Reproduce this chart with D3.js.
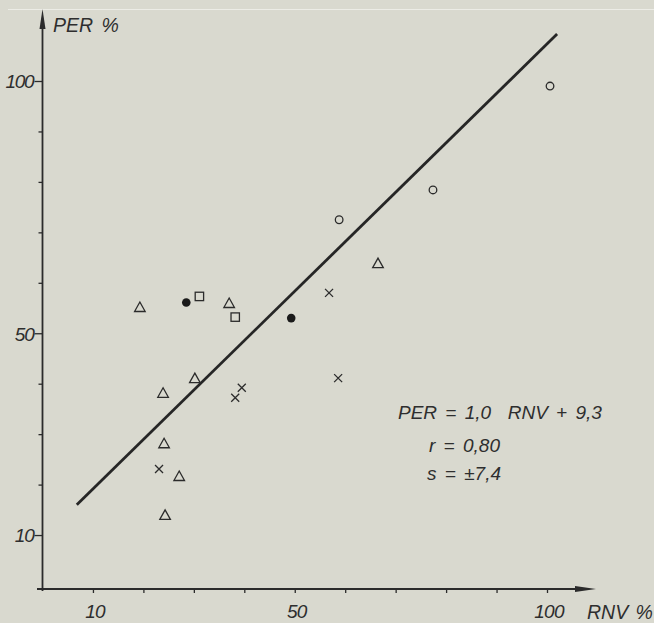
<!DOCTYPE html>
<html lang="en">
<head>
<meta charset="utf-8">
<script src="https://d3js.org/d3.v7.min.js"></script>
<style>
  html, body { margin: 0; padding: 0; background: #d9d9cf; }
  text { font-family: "Liberation Sans", Arial, sans-serif; font-style: italic; fill: #2e2e2e; }
</style>
</head>
<body>
<div id="chart"></div>
<script>
  // values (RNV %, PER %)
  const triangleRNV = [19.3, 37.0, 23.9, 30.2, 24.1, 27.1, 24.3, 66.5];
  const trianglePER = [55.2, 56.0, 38.2, 41.1, 28.2, 21.7, 14.0, 63.9];
  const dotRNV = [28.5, 49.3];
  const dotPER = [56.1, 53.0];
  const squareRNV = [31.1, 38.2];
  const squarePER = [57.3, 53.2];
  const crossRNV = [23.1, 38.2, 39.5, 56.8, 58.6];
  const crossPER = [23.1, 37.2, 39.2, 58.0, 41.1];
  const circleRNV = [58.8, 77.4, 100.6];
  const circlePER = [72.5, 78.4, 99.0];
  // regression line end points
  const lineRNV = [6.8, 102.0];
  const linePER = [16.0, 109.3];
  const tickValues = [10, 20, 30, 40, 50, 60, 70, 80, 90, 100];
  const labelledTicks = [10, 50, 100];
  const equationLines = ["PER = 1,0  RNV + 9,3", "r = 0,80", "s = ±7,4"];

  const W = 654, H = 623;
  const ink = "#2b2b2b";

  const svg = d3.select("#chart").append("svg")
    .attr("width", W)
    .attr("height", H);

  // scan artefact line across the top
  svg.append("line")
    .attr("x1", 8).attr("x2", W).attr("y1", 9.5).attr("y2", 9.5)
    .attr("stroke", "#ecece6").attr("stroke-width", 1);

  const x = d3.scaleLinear().domain([0, 100]).range([42.5, 547]);
  const y = d3.scaleLinear().domain([0, 100]).range([585.5, 81]);
  const axisY = 589, axisX = 42.5;

  // x axis
  const gx = svg.append("g").attr("transform", "translate(0," + axisY + ")")
    .call(d3.axisBottom(x).tickValues(tickValues)
      .tickSize(4).tickPadding(12)
      .tickFormat(d => labelledTicks.includes(d) ? d : ""));
  gx.select(".domain").remove();
  gx.selectAll("line").attr("stroke", ink).attr("stroke-width", 1.3);
  gx.selectAll("text").attr("font-size", 19).attr("dx", 1.5).attr("letter-spacing", -0.8)
    .style("font-family", '"Liberation Sans", Arial, sans-serif').attr("fill", ink);

  // y axis
  const gy = svg.append("g").attr("transform", "translate(" + axisX + ",0)")
    .call(d3.axisLeft(y).tickValues(tickValues)
      .tickSize(4).tickPadding(10)
      .tickFormat(d => labelledTicks.includes(d) ? d : ""));
  gy.select(".domain").remove();
  gy.selectAll("line").attr("stroke", ink).attr("stroke-width", 1.3)
    .attr("x2", d => labelledTicks.includes(d) ? -8 : -4);
  gy.selectAll("text").attr("font-size", 19).attr("x", -9).attr("dy", "0.36em")
    .attr("letter-spacing", -1.2)
    .style("font-family", '"Liberation Sans", Arial, sans-serif').attr("fill", ink);

  // axis lines with arrow heads
  svg.append("line").attr("x1", 37).attr("x2", 580).attr("y1", axisY).attr("y2", axisY)
    .attr("stroke", ink).attr("stroke-width", 1.8);
  svg.append("path").attr("d", `M575,${axisY - 3}L596,${axisY}L575,${axisY + 3}Z`).attr("fill", ink);
  svg.append("line").attr("x1", axisX).attr("x2", axisX).attr("y1", 25).attr("y2", 591)
    .attr("stroke", ink).attr("stroke-width", 1.8);
  svg.append("path").attr("d", `M${axisX - 3},29L${axisX},9L${axisX + 3},29Z`).attr("fill", ink);

  svg.append("text").attr("x", 53).attr("y", 32).attr("font-size", 19.5).style("word-spacing", "3px").text("PER %");
  svg.append("text").attr("x", 587).attr("y", 619).attr("font-size", 19.5).style("word-spacing", "2px").text("RNV %");

  // regression line
  svg.append("path")
    .datum(d3.zip(lineRNV, linePER))
    .attr("d", d3.line().x(d => x(d[0])).y(d => y(d[1])))
    .attr("fill", "none").attr("stroke", "#262626").attr("stroke-width", 2.8);

  const marks = svg.append("g").attr("stroke", ink).attr("stroke-width", 1.3);

  marks.selectAll(".tri").data(d3.zip(triangleRNV, trianglePER)).join("path")
    .attr("class", "tri").attr("fill", "none")
    .attr("d", d => `M${x(d[0])},${y(d[1]) - 5}L${x(d[0]) + 5.3},${y(d[1]) + 4.5}L${x(d[0]) - 5.3},${y(d[1]) + 4.5}Z`);

  marks.selectAll(".dot").data(d3.zip(dotRNV, dotPER)).join("circle")
    .attr("class", "dot").attr("cx", d => x(d[0])).attr("cy", d => y(d[1]))
    .attr("r", 4.3).attr("fill", "#1a1a1a").attr("stroke", "none");

  marks.selectAll(".sq").data(d3.zip(squareRNV, squarePER)).join("rect")
    .attr("class", "sq").attr("fill", "none")
    .attr("x", d => x(d[0]) - 4.2).attr("y", d => y(d[1]) - 4.2)
    .attr("width", 8.4).attr("height", 8.4);

  marks.selectAll(".cross").data(d3.zip(crossRNV, crossPER)).join("path")
    .attr("class", "cross").attr("fill", "none")
    .attr("d", d => `M${x(d[0]) - 4},${y(d[1]) - 4}L${x(d[0]) + 4},${y(d[1]) + 4}M${x(d[0]) + 4},${y(d[1]) - 4}L${x(d[0]) - 4},${y(d[1]) + 4}`);

  marks.selectAll(".circ").data(d3.zip(circleRNV, circlePER)).join("circle")
    .attr("class", "circ").attr("fill", "none")
    .attr("cx", d => x(d[0])).attr("cy", d => y(d[1])).attr("r", 3.8);

  // regression statistics
  const eqPos = [[398, 419], [429, 452], [427, 480]];
  svg.selectAll(".eq").data(equationLines).join("text")
    .attr("class", "eq").attr("xml:space", "preserve")
    .attr("x", (d, i) => eqPos[i][0]).attr("y", (d, i) => eqPos[i][1])
    .attr("font-size", 19).style("word-spacing", "3px")
    .text(d => d);
</script>
</body>
</html>
